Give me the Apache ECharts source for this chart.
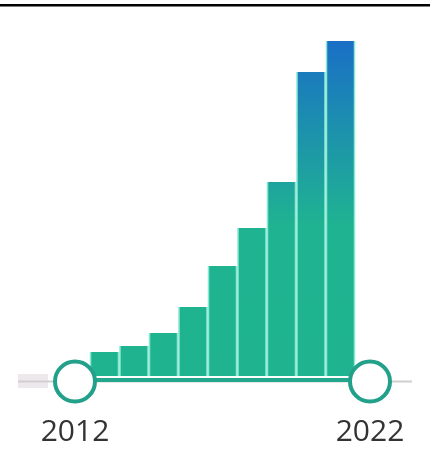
<!DOCTYPE html>
<html>
<head>
<meta charset="utf-8">
<style>html,body{margin:0;padding:0;background:#fff;}#c{width:434px;height:455px;}</style>
<script src="https://cdn.jsdelivr.net/npm/echarts@6/dist/echarts.min.js"></script>
</head>
<body>
<div id="c"></div>
<script>
var years = [2013, 2014, 2015, 2016, 2017, 2018, 2019, 2020, 2021];
var values = [24, 30, 43, 69, 110, 148, 194, 304, 335];
var rangeStart = 2012;
var rangeEnd = 2022;
var tickLabels = ['2012', '2022'];

var chart = echarts.init(document.getElementById('c'), null, {renderer: 'canvas'});
var pairs = years.map(function (y, i) { return [y, values[i]]; });
var grad = new echarts.graphic.LinearGradient(0, 41, 0, 376, [
  {offset: 0, color: '#1a6fc6'},
  {offset: 0.25, color: '#1c8fae'},
  {offset: 0.55, color: '#1fb391'},
  {offset: 1, color: '#1fb48f'}
], true);

chart.setOption({
  animation: false,
  grid: {left: 75, right: 64, top: 36, bottom: 73},
  xAxis: [{
    type: 'value', min: rangeStart, max: rangeEnd, interval: 1,
    offset: -2,
    axisLine: {show: true, onZero: false, lineStyle: {color: '#22a78c', width: 4}},
    axisTick: {show: false},
    splitLine: {show: false},
    axisLabel: {
      margin: 37,
      fontSize: 30, fontFamily: 'Open Sans', color: '#333',
      formatter: function (v) { var s = String(v); return tickLabels.indexOf(s) >= 0 ? s : ''; }
    }
  }, {
    type: 'value', min: rangeStart, max: rangeEnd, show: false
  }],
  yAxis: {type: 'value', min: -6, max: 340, show: false},
  graphic: [
    {type: 'rect', shape: {x: 0, y: 4, width: 430, height: 2.5}, style: {fill: '#000'}},
    {type: 'rect', shape: {x: 18, y: 380.5, width: 394, height: 2}, style: {fill: '#cfcfcf'}, z: -1},
    {type: 'rect', shape: {x: 18, y: 374, width: 30, height: 14}, style: {fill: '#ece8ec'}, z: -2}
  ],
  series: [{
    type: 'bar', xAxisIndex: 1, data: pairs, barWidth: 29.5,
    itemStyle: {color: '#8ae9d3'}, z: 1
  }, {
    type: 'bar', xAxisIndex: 0, data: pairs, barWidth: 26.5,
    itemStyle: {color: grad}, z: 2
  }, {
    type: 'scatter', xAxisIndex: 0, clip: false,
    data: [[rangeStart, -5.5], [rangeEnd, -5.5]],
    symbol: 'circle', symbolSize: 40,
    itemStyle: {color: '#fff', borderColor: '#23a089', borderWidth: 4, opacity: 1},
    z: 5
  }]
});
</script>
</body>
</html>
